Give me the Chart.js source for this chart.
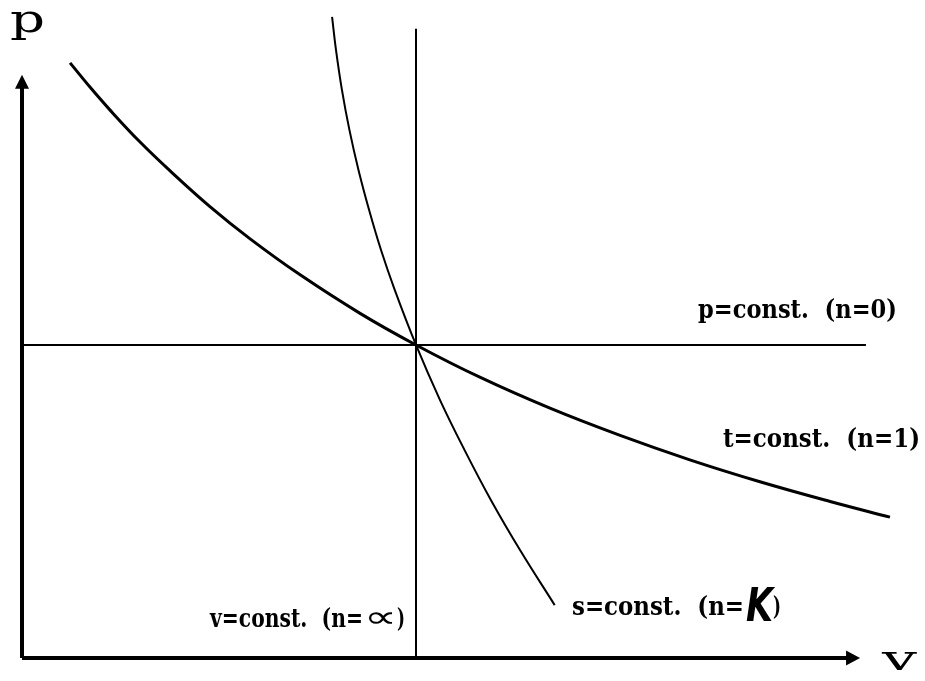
<!DOCTYPE html>
<html>
<head>
<meta charset="utf-8">
<script src="https://cdn.jsdelivr.net/npm/chart.js@4"></script>
<style>
html, body { margin: 0; padding: 0; background: #fff; }
#contenedor { width: 925px; height: 681px; }
</style>
</head>
<body>
<div id="contenedor"><canvas id="diagrama-pv" width="925" height="681"></canvas></div>
<script>
// Isoterma t=const. (n=1)
const isotermaV = [0.122, 0.173, 0.223, 0.299, 0.376, 0.477, 0.579, 0.706, 0.858, 1.0, 1.162, 1.340, 1.518, 1.695, 1.873, 2.051, 2.203];
const isotermaP = [1.901, 1.823, 1.751, 1.649, 1.556, 1.442, 1.339, 1.224, 1.101, 1.0, 0.897, 0.798, 0.711, 0.633, 0.563, 0.500, 0.450];

// Adiabata s=const. (n=k)
const adiabataV = [0.787, 0.797, 0.812, 0.831, 0.854, 0.881, 0.911, 0.946, 1.0, 1.061, 1.123, 1.190, 1.264, 1.352];
const adiabataP = [2.048, 1.942, 1.815, 1.687, 1.559, 1.431, 1.304, 1.176, 1.0, 0.824, 0.665, 0.505, 0.345, 0.169];

// Isobara p=const. (n=0) e isocora v=const. (n=∞), se cruzan en (1, 1)
const isobaraV = [0, 2.142];
const isobaraP = [1, 1];
const isocoraV = [1, 1];
const isocoraP = [0, 2.010];

// Ejes p y v (hasta la base de la flecha) y puntas de flecha
const ejePV = [0, 0];
const ejePP = [0, 1.83];
const ejeVV = [0, 2.096];
const ejeVP = [0, 0];
const puntaP = [0, 1.863];
const puntaV = [2.127, 0];

// Etiquetas
const etiquetas = ['p=const.  (n=0)', 't=const.  (n=1)', 'v=const.  (n=', 's=const.  (n='];

const puntos = (vs, ps) => vs.map((v, i) => ({ x: v, y: ps[i] }));

function serie(vs, ps, grosor, tension) {
    return {
        data: puntos(vs, ps),
        showLine: true,
        borderColor: '#000',
        borderWidth: grosor,
        pointRadius: 0,
        tension: tension,
        clip: false
    };
}

// Texto escalado en horizontal para ocupar un ancho dado
function texto(ctx, str, x, y, ancho, fuente) {
    ctx.save();
    ctx.font = fuente;
    const w = ctx.measureText(str).width;
    ctx.translate(x, y);
    ctx.scale(ancho / w, 1);
    ctx.fillText(str, 0, 0);
    ctx.restore();
}

const rotulos = {
    id: 'rotulos',
    afterDatasetsDraw(chart) {
        const ctx = chart.ctx;
        const sx = chart.scales.x;
        const sy = chart.scales.y;
        ctx.save();
        ctx.fillStyle = '#000';

        // flecha del eje p
        let x = sx.getPixelForValue(puntaP[0]);
        let y = sy.getPixelForValue(puntaP[1]);
        ctx.beginPath();
        ctx.moveTo(x, y);
        ctx.lineTo(x - 7, y + 14);
        ctx.lineTo(x + 7, y + 14);
        ctx.closePath();
        ctx.fill();

        // flecha del eje v
        x = sx.getPixelForValue(puntaV[0]);
        y = sy.getPixelForValue(puntaV[1]);
        ctx.beginPath();
        ctx.moveTo(x, y);
        ctx.lineTo(x - 14, y - 7.5);
        ctx.lineTo(x - 14, y + 7.5);
        ctx.closePath();
        ctx.fill();

        ctx.textBaseline = 'alphabetic';
        const fuente = 'bold 26px "DejaVu Serif"';
        texto(ctx, etiquetas[0], 698, 318, 199, fuente);
        texto(ctx, etiquetas[1], 723, 447, 197, fuente);
        texto(ctx, etiquetas[2], 210, 627, 153, fuente);
        texto(ctx, '\u221D', 364, 627, 33, '30px "DejaVu Sans"');
        texto(ctx, ')', 397, 627, 8, fuente);
        texto(ctx, etiquetas[3], 572, 615, 172, fuente);
        texto(ctx, 'K', 746, 621, 27, 'bold italic 46px "DejaVu Sans"');
        texto(ctx, ')', 773, 615, 8, fuente);

        // nombres de los ejes
        texto(ctx, 'p', 10, 32, 35, '40px "DejaVu Serif"');
        texto(ctx, 'v', 882, 670, 35, '36px "DejaVu Serif"');
        ctx.restore();
    }
};

const ctx = document.getElementById('diagrama-pv').getContext('2d');

const chart = new Chart(ctx, {
    type: 'scatter',
    data: {
        datasets: [
            serie(ejePV, ejePP, 4, 0),
            serie(ejeVV, ejeVP, 4, 0),
            serie(isobaraV, isobaraP, 2, 0),
            serie(isocoraV, isocoraP, 2, 0),
            serie(isotermaV, isotermaP, 3, 0.4),
            serie(adiabataV, adiabataP, 2, 0.4)
        ]
    },
    options: {
        responsive: false,
        animation: false,
        layout: { padding: { left: 22, right: 16.5, top: 0, bottom: 23 } },
        scales: {
            x: { type: 'linear', min: 0, max: 2.25, display: false },
            y: { type: 'linear', min: 0, max: 2.102, display: false }
        },
        plugins: {
            legend: { display: false },
            tooltip: { enabled: false }
        }
    },
    plugins: [rotulos]
});
</script>
</body>
</html>
